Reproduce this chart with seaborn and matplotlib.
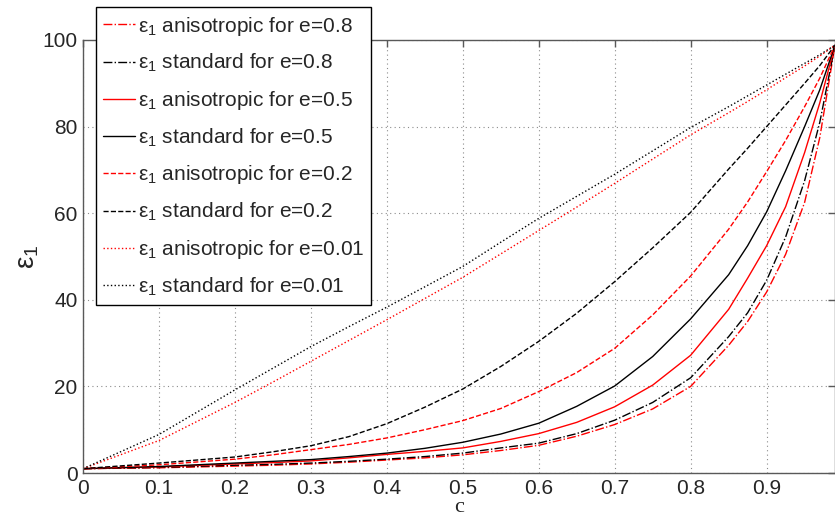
import matplotlib
matplotlib.use("Agg")
import matplotlib.pyplot as plt
import seaborn as sns

# Concentration values c
c = [0.0, 0.1, 0.2, 0.25, 0.3, 0.35, 0.4, 0.45, 0.5, 0.55, 0.6, 0.65, 0.7, 0.75,
     0.8, 0.85, 0.875, 0.9, 0.925, 0.95, 0.97, 0.99]

# eps_1 curves
aniso_e08 = [1.0, 1.2, 1.6, 1.8, 2.1, 2.5, 3.0, 3.5, 4.2, 5.2, 6.4, 8.5, 11.2, 14.8,
             20.0, 29.5, 35.0, 41.8, 50.5, 62.5, 77.5, 98.8]
std_e08 = [1.0, 1.3, 1.8, 2.0, 2.3, 2.7, 3.2, 3.8, 4.6, 5.8, 6.9, 9.1, 12.2, 16.3,
           22.0, 31.5, 37.0, 44.5, 54.5, 67.5, 81.0, 98.8]
aniso_e05 = [1.0, 1.4, 2.1, 2.4, 2.8, 3.5, 4.3, 5.0, 5.8, 7.3, 9.1, 11.7, 15.3, 20.3,
             27.2, 37.8, 45.0, 52.5, 61.5, 74.0, 85.5, 98.8]
std_e05 = [1.0, 1.5, 2.3, 2.7, 3.1, 3.8, 4.6, 5.7, 7.1, 9.0, 11.5, 15.4, 20.1, 26.9,
           35.6, 45.8, 52.5, 60.3, 69.8, 80.0, 88.5, 98.8]
aniso_e02 = [1.0, 1.9, 3.2, 4.2, 5.4, 6.6, 8.1, 10.0, 12.1, 14.9, 18.8, 23.2, 28.8, 36.5,
             45.5, 56.3, 62.6, 69.6, 76.8, 84.6, 91.2, 98.8]
std_e02 = [1.0, 2.3, 3.7, 4.9, 6.3, 8.4, 11.4, 15.2, 19.4, 24.6, 30.4, 36.9, 44.2, 52.0,
           60.2, 70.2, 75.0, 80.0, 85.0, 90.0, 94.1, 98.8]
aniso_e001 = [1.0, 7.5, 16.3, 21.0, 25.8, 30.6, 35.4, 40.3, 45.2, 50.6, 56.0, 61.4, 66.9, 72.5,
              78.1, 83.2, 85.8, 88.5, 91.3, 94.0, 96.3, 98.8]
std_e001 = [1.0, 8.9, 19.2, 24.2, 29.2, 33.8, 38.3, 43.0, 47.7, 53.3, 58.8, 63.9, 69.0, 74.4,
            79.8, 84.6, 87.1, 89.6, 92.1, 94.6, 96.6, 98.8]

eps = r"$\mathrm{ε}_1$"
series = [
    (aniso_e08, "red", "-.", eps + " anisotropic for e=0.8"),
    (std_e08, "black", "-.", eps + " standard for e=0.8"),
    (aniso_e05, "red", "-", eps + " anisotropic for e=0.5"),
    (std_e05, "black", "-", eps + " standard for e=0.5"),
    (aniso_e02, "red", "--", eps + " anisotropic for e=0.2"),
    (std_e02, "black", "--", eps + " standard for e=0.2"),
    (aniso_e001, "red", ":", eps + " anisotropic for e=0.01"),
    (std_e001, "black", ":", eps + " standard for e=0.01"),
]

sns.set_style("white")
plt.rcParams["font.family"] = ["Liberation Sans", "DejaVu Sans"]
plt.rcParams["mathtext.fontset"] = "custom"
plt.rcParams["mathtext.rm"] = "Liberation Sans"
plt.rcParams["mathtext.it"] = "Liberation Sans:italic"

fig = plt.figure(figsize=(8.35, 5.16), dpi=100)
ax = fig.add_axes([0.0994, 0.0833, 0.9006, 0.8392])

for vals, col, ls, lab in series:
    sns.lineplot(x=c, y=vals, color=col, linestyle=ls, linewidth=1.0,
                 label=lab, ax=ax)

ax.set_xlim(0, 0.99)
ax.set_ylim(0, 100)
ax.set_xticks([0, 0.1, 0.2, 0.3, 0.4, 0.5, 0.6, 0.7, 0.8, 0.9])
ax.set_xticklabels(["0", "0.1", "0.2", "0.3", "0.4", "0.5", "0.6", "0.7", "0.8", "0.9"])
ax.set_yticks([0, 20, 40, 60, 80, 100])
ax.tick_params(axis="both", direction="in", length=5, width=1.0, color="0.35",
               labelsize=15, top=True, right=True, pad=4)
ax.grid(True, linestyle=(0, (1, 3)), color="0.55", linewidth=0.8)
for sp in ax.spines.values():
    sp.set_color("0.35")
    sp.set_linewidth(1.0)

ax.set_xlabel("c", fontsize=16, family="Liberation Serif", labelpad=0)
ax.set_ylabel(r"$\mathrm{ε}_1$", fontsize=20, labelpad=1)

leg = ax.legend(loc="upper left", bbox_to_anchor=(0.115, 0.986),
                bbox_transform=fig.transFigure, fontsize=15, frameon=True,
                fancybox=False, edgecolor="black", framealpha=1.0,
                handlelength=1.5, handletextpad=0.15, labelspacing=0.7,
                borderpad=0.35, borderaxespad=0)
leg.get_frame().set_linewidth(1.0)
leg.set_zorder(10)

fig.savefig("out.png", dpi=100)
